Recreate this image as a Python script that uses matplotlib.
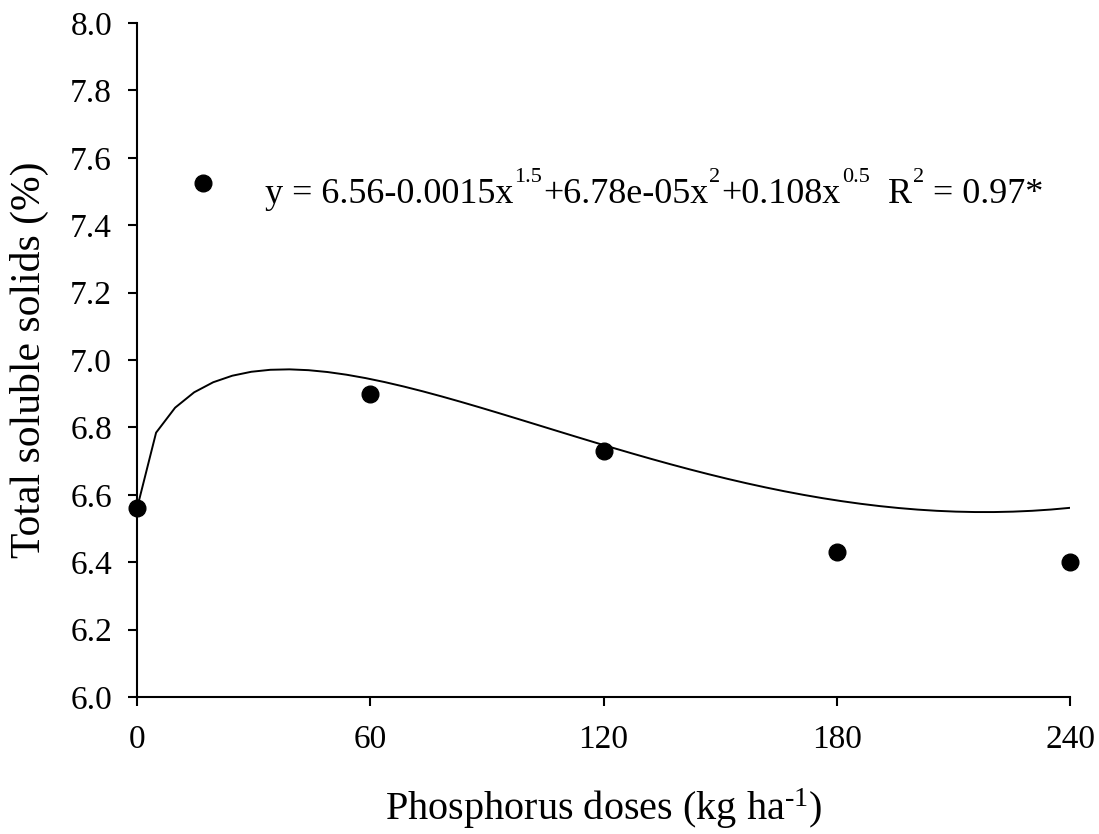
import numpy as np
import matplotlib
matplotlib.use("Agg")
import matplotlib.pyplot as plt
from matplotlib.transforms import IdentityTransform

# Data
doses = [0, 60, 120, 180, 240]
tss = [6.56, 6.90, 6.73, 6.43, 6.40]
# fitted model coefficients: y = b0 + b1*x^1.5 + b2*x^2 + b3*x^0.5
b0, b1, b2, b3 = 6.56, -0.0015, 6.78e-05, 0.108
xticks = [0, 60, 120, 180, 240]
yticks = [6.0, 6.2, 6.4, 6.6, 6.8, 7.0, 7.2, 7.4, 7.6, 7.8, 8.0]
eq_pieces = [("y = 6.56-0.0015x", False), ("1.5", True), ("+6.78e-05x", False), ("2", True),
             ("+0.108x", False), ("0.5", True), (None, 17), ("R", False), ("2", True),
             (None, 8), ("= 0.97*", False)]

plt.rcParams['font.family'] = ['Liberation Serif', 'DejaVu Serif']
plt.rcParams['mathtext.fontset'] = 'custom'
plt.rcParams['mathtext.rm'] = 'Liberation Serif'
plt.rcParams['mathtext.it'] = 'Liberation Serif'

fig = plt.figure(figsize=(10.99, 8.34), dpi=100)
ax = fig.add_axes([0.1247, 0.1643, 0.849, 0.8081])

xf = np.linspace(0, 240, 50)
yf = b0 + b1 * xf**1.5 + b2 * xf**2 + b3 * xf**0.5
ax.plot(xf, yf, color='black', lw=1.4)
ax.plot(doses, tss, 'o', color='black', markersize=12, clip_on=False, zorder=5)

ax.set_xlim(0, 240)
ax.set_ylim(6.0, 8.0)
ax.set_xticks(xticks)
ax.set_xticklabels([str(v) for v in xticks])
ax.set_yticks(yticks)
ax.set_yticklabels([f"{v:.1f}" for v in yticks])
for s in ['top', 'right']:
    ax.spines[s].set_visible(False)
for s in ['left', 'bottom']:
    ax.spines[s].set_linewidth(1.5)
ax.tick_params(direction='out', length=6.5, width=1.5, labelsize=24)
ax.tick_params(axis='x', pad=13.5)
ax.tick_params(axis='y', pad=11.5)

ax.set_xlabel(r'Phosphorus doses (kg ha$^{\text{-1}}$)', fontsize=29)
ax.xaxis.set_label_coords(0.5, -0.133)
ax.set_ylabel('Total soluble solids (%)', fontsize=30, labelpad=15)

# legend-like marker
ax.plot([0.0707], [0.7626], 'o', color='black', markersize=12, transform=ax.transAxes, clip_on=False)

# equation drawn piece by piece (smaller, raised superscripts)
renderer = fig.canvas.get_renderer()
X, Y = ax.transAxes.transform((0.137, 0.733))
main_size, sup_size, rise = 26, 16, 21
for text, flag in eq_pieces:
    if text is None:
        X += flag
        continue
    if flag:
        t = fig.text(X + 1, Y + rise, text, fontsize=sup_size, transform=IdentityTransform(),
                     va='baseline', ha='left')
        X += t.get_window_extent(renderer).width + 2
    else:
        t = fig.text(X, Y, text, fontsize=main_size, transform=IdentityTransform(),
                     va='baseline', ha='left')
        X += t.get_window_extent(renderer).width

fig.savefig('out.png', dpi=100)
